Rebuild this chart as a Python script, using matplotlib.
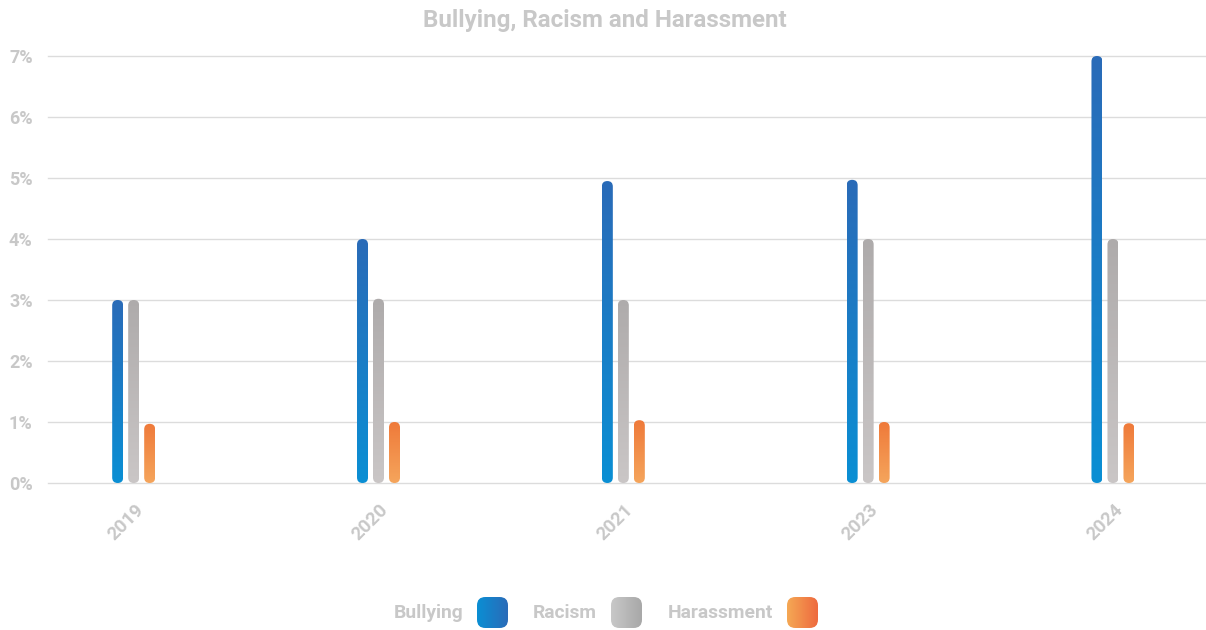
import numpy as np
import matplotlib
matplotlib.use("Agg")
import matplotlib.pyplot as plt
from matplotlib.colors import LinearSegmentedColormap
from matplotlib.patches import FancyBboxPatch
from matplotlib.transforms import ScaledTranslation

years = ["2019", "2020", "2021", "2023", "2024"]
bullying = [3.0, 4.0, 4.95, 4.97, 7.0]
racism = [3.0, 3.02, 3.0, 4.0, 4.0]
harassment = [0.97, 1.0, 1.03, 1.0, 0.98]
series = ["Bullying", "Racism", "Harassment"]

# gradient colours: (bottom, top) for bars, (left, right) for legend swatches
bar_cols = [("#0a8fd4", "#2a6bb8"), ("#cac6c6", "#aeabab"), ("#f5a55c", "#ef7a3a")]
leg_cols = [("#0a8fd4", "#2a6bb8"), ("#c8c8c8", "#a8a8a8"), ("#f5a855", "#ee6a3e")]

TXT = "#c8c8c8"
plt.rcParams["font.family"] = ["Roboto", "DejaVu Sans"]

W, H = 1206, 630
fig = plt.figure(figsize=(W / 100, H / 100), dpi=100)
ax_l, ax_r, ax_b, ax_t = 48, 1206, 483, 56
ax = fig.add_axes([ax_l / W, 1 - ax_b / H, (ax_r - ax_l) / W, (ax_b - ax_t) / H])

xlim = (-0.35, 4.38)
ylim = (0, 7)
xpd = (xlim[1] - xlim[0]) / (ax_r - ax_l)   # x data per pixel
ypd = (ylim[1] - ylim[0]) / (ax_b - ax_t)   # y data per pixel
bar_w = 11 * xpd
offset = 16 * xpd
asp = ypd / xpd

grad = np.linspace(0, 1, 256).reshape(-1, 1)
x = np.arange(len(years))
for k, vals in enumerate([bullying, racism, harassment]):
    cmap = LinearSegmentedColormap.from_list(series[k], bar_cols[k])
    for i, v in enumerate(vals):
        xc = x[i] + (k - 1) * offset
        im = ax.imshow(grad, cmap=cmap, extent=[xc - bar_w / 2, xc + bar_w / 2, 0, v],
                       origin="lower", aspect="auto", zorder=3, interpolation="bilinear")
        p = FancyBboxPatch((xc - bar_w / 2, 0), bar_w, v,
                           boxstyle=f"round,pad=0,rounding_size={bar_w / 2}",
                           mutation_aspect=asp, facecolor="none", edgecolor="none",
                           transform=ax.transData)
        im.set_clip_path(p)

ax.set_xlim(*xlim)
ax.set_ylim(*ylim)
ax.set_yticks(range(0, 8))
ax.set_yticklabels([f"{i}%" for i in range(0, 8)])
ax.grid(axis="y", color="#dcdcdc", lw=1)
for gl in ax.get_ygridlines():
    gl.set_clip_on(False)
ax.set_axisbelow(True)
for s in ax.spines.values():
    s.set_visible(False)
ax.tick_params(axis="y", length=0, pad=11, labelsize=13, labelcolor=TXT)
ax.set_xticks(x)
ax.set_xticklabels(years, rotation=45, ha="center", fontweight="bold")
ax.tick_params(axis="x", length=0, pad=13, labelsize=13.5, labelcolor=TXT)
for lab in ax.get_yticklabels():
    lab.set_fontweight("bold")
for lab in ax.get_xticklabels():
    lab.set_transform(lab.get_transform() + ScaledTranslation(-8 / 100, 0, fig.dpi_scale_trans))

fig.text(605 / W, 1 - 20 / H, "Bullying, Racism and Harassment", ha="center", va="center",
         fontsize=17.4, fontweight="bold", color=TXT)

# legend
leg_text_right = [463, 597, 773]
leg_sw_left = [477, 611, 787]
hgrad = np.linspace(0, 1, 256).reshape(1, -1)
for k in range(3):
    fig.text(leg_text_right[k] / W, 1 - 613 / H, series[k], ha="right", va="center",
             fontsize=13.9, fontweight="bold", color=TXT)
    sax = fig.add_axes([leg_sw_left[k] / W, 1 - 628 / H, 31 / W, 31 / H])
    sax.set_axis_off()
    cmap = LinearSegmentedColormap.from_list("l" + series[k], leg_cols[k])
    im = sax.imshow(hgrad, cmap=cmap, extent=[0, 1, 0, 1], aspect="auto")
    p = FancyBboxPatch((0, 0), 1, 1, boxstyle="round,pad=0,rounding_size=0.27",
                       facecolor="none", edgecolor="none", transform=sax.transAxes)
    im.set_clip_path(p)
    sax.set_xlim(0, 1)
    sax.set_ylim(0, 1)

fig.savefig("out.png", dpi=100)
